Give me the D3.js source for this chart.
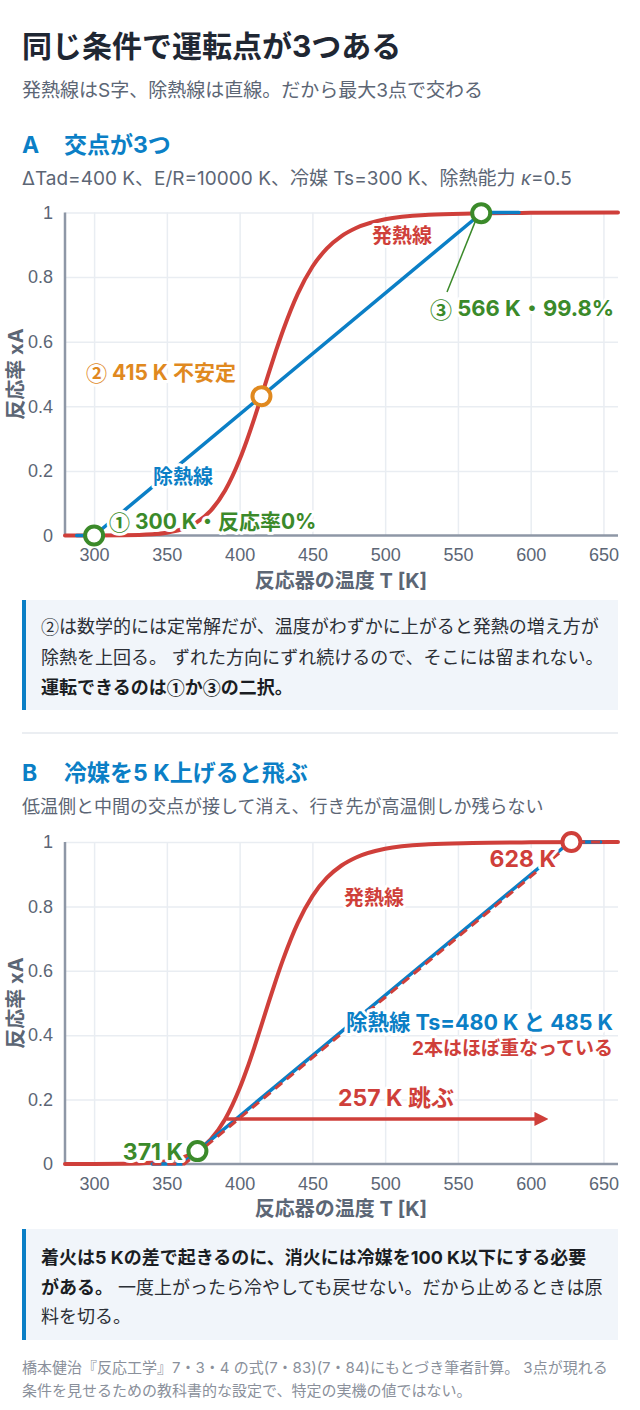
<!DOCTYPE html>
<html>
<head>
<meta charset="utf-8">
<script src="https://cdn.jsdelivr.net/npm/d3@7"></script>
<style>
  body { margin: 0; background: #fff; }
  svg { display: block; font-family: Inter, "Noto Sans CJK JP", sans-serif; }
  .tick text { fill: #5c6675; font-size: 18px; }
</style>
</head>
<body>
<script>
// temperature ticks and conversion ticks
var tickT = [300, 350, 400, 450, 500, 550, 600, 650];
var tickX = [0, 0.2, 0.4, 0.6, 0.8, 1];

// heat generation (S curve)
var genT = [280, 300, 320, 340, 350, 360, 370, 380, 390, 400, 405, 410, 415, 420, 425, 430, 440, 450, 460, 470, 480, 500, 530, 560, 600, 660];
var genX = [0, 0.0001, 0.0006, 0.0037, 0.0086, 0.019, 0.039, 0.076, 0.139, 0.235, 0.295, 0.361, 0.431, 0.503, 0.572, 0.637, 0.749, 0.832, 0.889, 0.927, 0.952, 0.979, 0.993, 0.997, 0.999, 1];

// heat removal lines
var remAT = [288, 300, 566.7, 592];
var remAX = [0, 0, 1, 1];
var remB480T = [340, 360.3, 627, 648];
var remB480X = [0, 0, 1, 1];
var remB485T = [340, 362, 628.7, 648];
var remB485X = [0, 0, 1, 1];

// operating points
var ptAT = [300, 415, 566];
var ptAX = [0, 0.431, 0.998];
var ptBT = [371, 628];
var ptBX = [0.04, 1];

// jump arrow in B
var jumpT = [391, 612];
var jumpX = 0.14;

var RED = '#cf3f3a', BLUE = '#0b7fc6', GREEN = '#3b8a2a', ORANGE = '#e0891f';
var GRID = '#e9edf2', AXIS = '#8e97a6', MUTED = '#5c6675';

var svg = d3.select('body').append('svg').attr('width', 640).attr('height', 1410);

var defs = svg.append('defs');
defs.append('marker').attr('id', 'head').attr('viewBox', '0 0 10 10')
  .attr('refX', 0.5).attr('refY', 5).attr('markerWidth', 4).attr('markerHeight', 4)
  .attr('orient', 'auto').attr('markerUnits', 'strokeWidth')
  .append('path').attr('d', 'M0,0 L10,5 L0,10 Z').attr('fill', RED);

// text with circled digits taken from the CJK font
function txt(x, y, s, o) {
  o = o || {};
  var t = svg.append('text').attr('x', x).attr('y', y)
    .attr('dominant-baseline', 'central')
    .attr('font-size', o.size || 18)
    .attr('font-weight', o.bold ? 700 : 400)
    .attr('fill', o.color || '#2b2f36')
    .attr('text-anchor', o.anchor || 'start');
  addParts(t, s);
  if (o.halo) {
    t.attr('stroke', '#fff').attr('stroke-width', 6).attr('stroke-linejoin', 'round')
      .attr('paint-order', 'stroke');
  }
  return t;
}
function addParts(t, s, bold) {
  s.split(/([①②③])/).forEach(function(p) {
    if (!p) return;
    var ts = t.append('tspan').text(p);
    if (/[①②③]/.test(p)) ts.attr('font-family', '"Noto Sans CJK JP"');
    if (bold) ts.attr('font-weight', 700).attr('fill', '#1a1d23');
  });
}

// header
txt(22, 46, '同じ条件で運転点が3つある', {size: 30, bold: true, color: '#1f2733'});
txt(22, 90, '発熱線はS字、除熱線は直線。だから最大3点で交わる', {size: 19, color: MUTED});
txt(22, 145, 'A', {size: 23, bold: true, color: BLUE});
txt(64, 145, '交点が3つ', {size: 23, bold: true, color: BLUE});
var par = txt(22, 178, 'ΔTad=400 K、E/R=10000 K、冷媒 Ts=300 K、除熱能力 ', {size: 19, color: MUTED});
par.append('tspan').attr('font-style', 'italic').text('κ');
par.append('tspan').text('=0.5');

var x = d3.scaleLinear().domain([280, 660]).range([65, 618]);

function pair(ts, xs) { return ts.map(function(t, i) { return [t, xs[i]]; }); }

function frame(y, top, bottom) {
  var g = svg.append('g');
  // grid
  g.append('g').attr('transform', 'translate(0,' + bottom + ')')
    .call(d3.axisBottom(x).tickValues(tickT).tickSize(-(bottom - top)).tickFormat(''))
    .call(function(a) { a.select('.domain').remove(); a.selectAll('line').attr('stroke', GRID).attr('stroke-width', 1.5); });
  g.append('g').attr('transform', 'translate(65,0)')
    .call(d3.axisLeft(y).tickValues(tickX.slice(1)).tickSize(-(618 - 65)).tickFormat(''))
    .call(function(a) { a.select('.domain').remove(); a.selectAll('line').attr('stroke', GRID).attr('stroke-width', 1.5); });
  // tick labels
  g.append('g').attr('transform', 'translate(0,' + bottom + ')')
    .call(d3.axisBottom(x).tickValues(tickT).tickSize(0).tickPadding(13))
    .call(function(a) { a.select('.domain').remove(); a.selectAll('text').attr('font-family', null); });
  g.append('g').attr('transform', 'translate(65,0)')
    .call(d3.axisLeft(y).tickValues(tickX).tickSize(0).tickPadding(12)
      .tickFormat(function(d) { return d === 0 ? '0' : d === 1 ? '1' : d.toFixed(1); }))
    .call(function(a) { a.select('.domain').remove(); a.selectAll('text').attr('font-family', null); });
  // spines
  g.append('line').attr('x1', 65).attr('x2', 65).attr('y1', top).attr('y2', bottom + 1)
    .attr('stroke', AXIS).attr('stroke-width', 2.5);
  g.append('line').attr('x1', 64).attr('x2', 618).attr('y1', bottom).attr('y2', bottom)
    .attr('stroke', AXIS).attr('stroke-width', 2.5);
  // axis titles
  txt(341, bottom + 45, '反応器の温度 T [K]', {size: 20, bold: true, color: MUTED, anchor: 'middle'});
  txt(0, 0, '反応率 xA', {size: 20, bold: true, color: MUTED, anchor: 'middle'})
    .attr('transform', 'translate(16,' + ((top + bottom) / 2) + ') rotate(-90)');
}

function curve(y, data, color, width, dash, shape) {
  var line = d3.line().x(function(d) { return x(d[0]); }).y(function(d) { return y(d[1]); })
    .curve(shape || d3.curveMonotoneX);
  var p = svg.append('path').datum(data).attr('d', line).attr('fill', 'none')
    .attr('stroke', color).attr('stroke-width', width).attr('stroke-linecap', 'round')
    .attr('stroke-linejoin', 'round');
  if (dash) p.attr('stroke-dasharray', dash).attr('stroke-linecap', 'butt');
  return p;
}

function dot(y, t, v, color) {
  svg.append('circle').attr('cx', x(t)).attr('cy', y(v)).attr('r', 9)
    .attr('fill', '#fff').attr('stroke', color).attr('stroke-width', 4);
}

// ---- chart A
var yA = d3.scaleLinear().domain([0, 1]).range([535.5, 212.5]);
frame(yA, 212.5, 535.5);
curve(yA, pair(genT, genX), RED, 4);
curve(yA, pair(remAT, remAX), BLUE, 3.5, null, d3.curveLinear);

svg.append('line').attr('x1', 447).attr('y1', 292).attr('x2', x(ptAT[2]) - 5).attr('y2', yA(ptAX[2]) + 6)
  .attr('stroke', GREEN).attr('stroke-width', 1.5);

txt(402, 236, '発熱線', {size: 20, bold: true, color: RED, halo: true, anchor: 'middle'});
txt(430, 308, '③ 566 K・99.8%', {size: 22, bold: true, color: GREEN, halo: true});
txt(86, 372, '② 415 K 不安定', {size: 21, bold: true, color: ORANGE, halo: true});
txt(183, 477, '除熱線', {size: 20, bold: true, color: BLUE, halo: true, anchor: 'middle'});
txt(109, 521, '① 300 K・反応率0%', {size: 21, bold: true, color: GREEN, halo: true});

var ptColors = [GREEN, ORANGE, GREEN];
ptAT.forEach(function(t, i) { dot(yA, t, ptAX[i], ptColors[i]); });

// note A
svg.append('rect').attr('x', 22).attr('y', 600).attr('width', 596).attr('height', 110).attr('fill', '#f1f5fa');
svg.append('rect').attr('x', 22).attr('y', 600).attr('width', 4).attr('height', 110).attr('fill', BLUE);
txt(41, 626, '②は数学的には定常解だが、温度がわずかに上がると発熱の増え方が', {size: 18});
txt(41, 657, '除熱を上回る。 ずれた方向にずれ続けるので、そこには留まれない。', {size: 18});
txt(41, 687, '運転できるのは①か③の二択。', {size: 18, bold: true, color: '#1a1d23'});

svg.append('line').attr('x1', 22).attr('x2', 618).attr('y1', 733).attr('y2', 733)
  .attr('stroke', '#e5e8ee').attr('stroke-width', 1.5);

// ---- chart B
txt(22, 773, 'B', {size: 23, bold: true, color: BLUE});
txt(64, 773, '冷媒を5 K上げると飛ぶ', {size: 23, bold: true, color: BLUE});
txt(22, 806, '低温側と中間の交点が接して消え、行き先が高温側しか残らない', {size: 18, color: MUTED});

var yB = d3.scaleLinear().domain([0, 1]).range([1164, 842]);
frame(yB, 842, 1164);
curve(yB, pair(genT, genX), RED, 4);
curve(yB, pair(remB480T, remB480X), BLUE, 3.5, null, d3.curveLinear);
curve(yB, pair(remB485T, remB485X), RED, 3, '9,6', d3.curveLinear);

svg.append('line').attr('x1', x(jumpT[0])).attr('x2', x(jumpT[1]) - 13)
  .attr('y1', yB(jumpX)).attr('y2', yB(jumpX))
  .attr('stroke', RED).attr('stroke-width', 3.5).attr('marker-end', 'url(#head)');

txt(374, 898, '発熱線', {size: 20, bold: true, color: RED, halo: true, anchor: 'middle'});
txt(556, 859, '628 K', {size: 23, bold: true, color: RED, halo: true, anchor: 'end'});
txt(613, 1022, '除熱線 Ts=480 K と 485 K', {size: 21.5, bold: true, color: BLUE, halo: true, anchor: 'end'});
txt(613, 1048, '2本はほぼ重なっている', {size: 19, bold: true, color: RED, halo: true, anchor: 'end'});
txt(338, 1098, '257 K 跳ぶ', {size: 23, bold: true, color: RED, halo: true});
txt(183, 1152, '371 K', {size: 23, bold: true, color: GREEN, halo: true, anchor: 'end'});

dot(yB, ptBT[0], ptBX[0], GREEN);
dot(yB, ptBT[1], ptBX[1], RED);

// note B
svg.append('rect').attr('x', 22).attr('y', 1229).attr('width', 596).attr('height', 111).attr('fill', '#f1f5fa');
svg.append('rect').attr('x', 22).attr('y', 1229).attr('width', 4).attr('height', 111).attr('fill', BLUE);
txt(41, 1257, '着火は5 Kの差で起きるのに、消火には冷媒を100 K以下にする必要', {size: 18, bold: true, color: '#1a1d23'});
var l2 = txt(41, 1287, '', {size: 18});
addParts(l2, 'がある。', true);
addParts(l2, ' 一度上がったら冷やしても戻せない。だから止めるときは原');
txt(41, 1316, '料を切る。', {size: 18});

// source
txt(22, 1367, '橋本健治『反応工学』7・3・4 の式(7・83)(7・84)にもとづき筆者計算。 3点が現れる', {size: 15, color: '#8a909b'});
txt(22, 1390, '条件を見せるための教科書的な設定で、特定の実機の値ではない。', {size: 15, color: '#8a909b'});
</script>
</body>
</html>
